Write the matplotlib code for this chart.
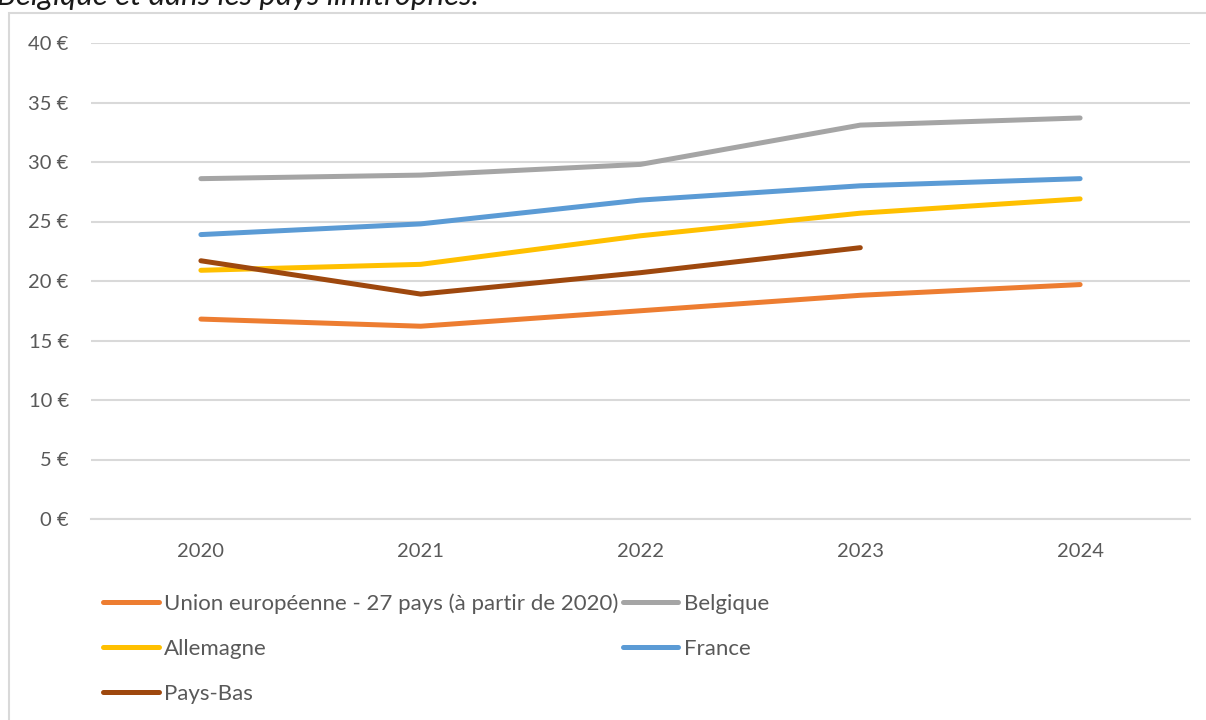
import matplotlib.pyplot as plt
from matplotlib.patches import Rectangle

annees = ['2020', '2021', '2022', '2023', '2024']
ue27 = [16.8, 16.2, 17.5, 18.8, 19.7]
belgique = [28.6, 28.9, 29.8, 33.1, 33.7]
allemagne = [20.9, 21.4, 23.8, 25.7, 26.9]
france = [23.9, 24.8, 26.8, 28.0, 28.6]
pays_bas = [21.7, 18.9, 20.7, 22.8]

plt.rcParams['font.family'] = ['Lato', 'DejaVu Sans']
gris_texte = '#595959'

fig = plt.figure(figsize=(12.06, 7.2), dpi=100)

# cadre du graphique (coupé en haut à droite et en bas)
fig.patches.append(Rectangle((9 / 1206, -0.05), 1.1, 1 - 13 / 720 + 0.05,
                             transform=fig.transFigure, fill=False,
                             edgecolor='#D9D9D9', linewidth=1.5))

# titre tronqué au bord supérieur, comme dans l'original
fig.text(-3 / 1206, 1 - 5 / 720, 'Belgique et dans les pays limitrophes.',
         fontsize=22.5, style='italic', color='#1a1a1a', va='baseline', ha='left')

ax = fig.add_axes([91 / 1206, 1 - 519 / 720, (1190 - 91) / 1206, (519 - 43) / 720])
x = list(range(len(annees)))

series = [
    ('Union européenne - 27 pays (à partir de 2020)', ue27, '#ED7D31'),
    ('Allemagne', allemagne, '#FFC000'),
    ('Pays-Bas', pays_bas, '#9E480E'),
    ('Belgique', belgique, '#A5A5A5'),
    ('France', france, '#5B9BD5'),
]
ordre_trace = [0, 3, 1, 4, 2]
lignes = {}
for i in ordre_trace:
    nom, vals, coul = series[i]
    l, = ax.plot(x[:len(vals)], vals, color=coul, linewidth=3.6,
                 solid_capstyle='round', solid_joinstyle='round', label=nom)
    lignes[i] = l

ax.set_xlim(-0.5, len(annees) - 0.5)
ax.set_ylim(0, 40)
ax.set_yticks(range(0, 41, 5))
ax.set_yticklabels([f'{v} €' for v in range(0, 41, 5)])
ax.set_xticks(x)
ax.set_xticklabels(annees)
ax.grid(axis='y', color='#D9D9D9', linewidth=1.5)
ax.set_axisbelow(True)
for s in ['top', 'right', 'left']:
    ax.spines[s].set_visible(False)
ax.spines['bottom'].set_color('#D9D9D9')
ax.spines['bottom'].set_linewidth(1.5)
ax.tick_params(length=0, labelsize=14.5, colors=gris_texte)
ax.tick_params(axis='y', pad=16)
ax.tick_params(axis='x', pad=17)

handles = [lignes[i] for i in range(5)]
leg = fig.legend(handles=handles, labels=[s[0] for s in series], ncol=2,
                 loc='upper left', bbox_to_anchor=(103 / 1206, 1 - 593 / 720),
                 frameon=False, fontsize=16, handlelength=2.5, handletextpad=0.25,
                 columnspacing=0.2, labelspacing=1.13, borderaxespad=0,
                 borderpad=0)
for t in leg.get_texts():
    t.set_color(gris_texte)

fig.savefig('out.png', dpi=100)
